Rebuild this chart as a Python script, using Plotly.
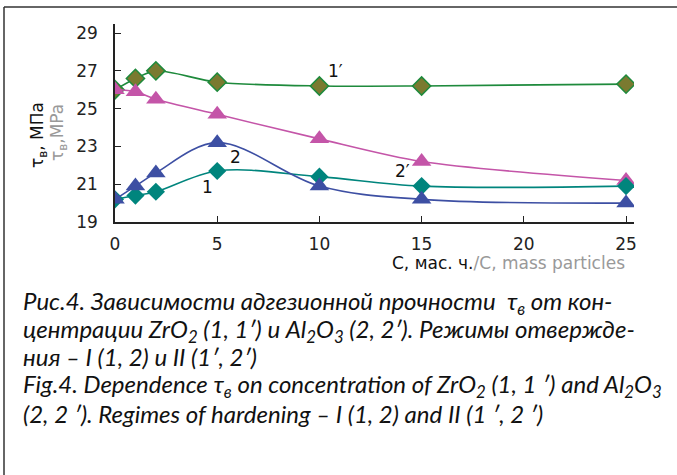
import plotly.graph_objects as go

conc = [0, 1, 2, 5, 10, 15, 25]
zro2_I = [20.2, 20.4, 20.6, 21.7, 21.4, 20.9, 20.9]      # 1
al2o3_I = [20.2, 20.9, 21.6, 23.2, 20.9, 20.2, 20.0]     # 2
zro2_II = [26.0, 26.6, 27.0, 26.4, 26.2, 26.2, 26.3]     # 1'
al2o3_II = [26.0, 25.9, 25.5, 24.7, 23.4, 22.2, 21.2]    # 2'

x_ticks = [0, 5, 10, 15, 20, 25]
y_ticks = [19, 21, 23, 25, 27, 29]

W, H = 677, 475
L, R, T, B = 115, 43, 24, 253
pw, ph = W - L - R, H - T - B

def px(X):
    return (X - L) / pw

def py(Y):
    return (H - B - Y) / ph

fig = go.Figure()

fig.add_trace(go.Scatter(x=conc, y=zro2_II, mode="lines+markers", line=dict(color="#1e8a3c", width=1.6, shape="spline", smoothing=0.8),
                         marker=dict(symbol="diamond", size=14, color="#7a7a30", line=dict(color="#1e8a3c", width=1.5))))
fig.add_trace(go.Scatter(x=conc, y=al2o3_II, mode="lines+markers", line=dict(color="#c455a8", width=1.6, shape="spline", smoothing=0.8),
                         marker=dict(symbol="triangle-up", size=17, color="#c455a8")))
fig.add_trace(go.Scatter(x=conc, y=zro2_I, mode="lines+markers", line=dict(color="#00857d", width=1.6, shape="spline", smoothing=1.0),
                         marker=dict(symbol="diamond", size=14, color="#00857d")))
fig.add_trace(go.Scatter(x=conc, y=al2o3_I, mode="lines+markers", line=dict(color="#3d4fa3", width=1.6, shape="spline", smoothing=1.0),
                         marker=dict(symbol="triangle-up", size=17, color="#3d4fa3")))

tick_font = dict(family="DejaVu Sans", size=17, color="#222")
fig.update_xaxes(range=[0, 25.39], tickvals=x_ticks, ticks="inside", ticklen=6, tickcolor="#222",
                 showline=True, linecolor="#222", linewidth=1.5, showgrid=False, zeroline=False,
                 tickfont=tick_font, ticklabelstandoff=6)
fig.update_yaxes(range=[19, 29.48], tickvals=y_ticks, ticks="inside", ticklen=6, tickcolor="#222",
                 showline=True, linecolor="#222", linewidth=1.5, showgrid=False, zeroline=False,
                 tickfont=tick_font, ticklabelstandoff=12)

ann = []
lab_font = dict(family="DejaVu Sans", size=17, color="#111")
for txt, X, Y in [("1′", 335, 71), ("2", 235, 157), ("1", 207, 187), ("2′", 403, 171)]:
    ann.append(dict(text=txt, x=px(X), y=py(Y), xref="paper", yref="paper", xanchor="center", yanchor="middle",
                    showarrow=False, font=lab_font))

# y axis titles
ann.append(dict(text="τ<sub>в</sub>, МПа", x=px(38), y=py(135), xref="paper", yref="paper", showarrow=False,
                xanchor="center", yanchor="middle", textangle=-90,
                font=dict(family="DejaVu Sans", size=17, color="#111")))
ann.append(dict(text="τ<sub>в</sub>,MPa", x=px(58), y=py(133), xref="paper", yref="paper", showarrow=False,
                xanchor="center", yanchor="middle", textangle=-90,
                font=dict(family="DejaVu Sans", size=17, color="#999")))
# x axis title
ann.append(dict(text="С, мас. ч.<span style='color:#999'>/C, mass particles</span>", x=px(627), y=py(263),
                xref="paper", yref="paper", xanchor="right", yanchor="middle", showarrow=False,
                font=dict(family="DejaVu Sans", size=17, color="#111")))

cap = [
    "Рис.4. Зависимости адгезионной прочности  τ<sub>в</sub> от кон-",
    "центрации ZrO<sub>2</sub> (1, 1′) и Al<sub>2</sub>O<sub>3</sub> (2, 2′). Режимы отвержде-",
    "ния – I (1, 2) и II (1′, 2′)",
    "Fig.4. Dependence τ<sub>в</sub> on concentration of ZrO<sub>2</sub> (1, 1 ′) and Al<sub>2</sub>O<sub>3</sub>",
    "(2, 2 ′). Regimes of hardening – I (1, 2) and II (1 ′, 2 ′)",
]
cap_y = [302, 330, 357, 385, 413]
for txt, Y in zip(cap, cap_y):
    ann.append(dict(text="<i>" + txt + "</i>", x=px(21), y=py(Y), xref="paper", yref="paper",
                    xanchor="left", yanchor="middle",
                    showarrow=False, font=dict(family="Lato", size=24, color="#111")))

shapes = [
    dict(type="line", xref="paper", yref="paper", x0=px(4), x1=px(677), y0=py(7), y1=py(7), line=dict(color="#333", width=1.5)),
    dict(type="line", xref="paper", yref="paper", x0=px(4), x1=px(4), y0=py(7), y1=py(475), line=dict(color="#333", width=1.5)),
]

fig.update_layout(width=W, height=H, margin=dict(l=L, r=R, t=T, b=B), plot_bgcolor="white", paper_bgcolor="white",
                  showlegend=False, annotations=ann, shapes=shapes)

fig.write_html("out.html", config={"displayModeBar": False},
               post_script="document.body.style.margin='0px';document.body.style.overflow='hidden';")
